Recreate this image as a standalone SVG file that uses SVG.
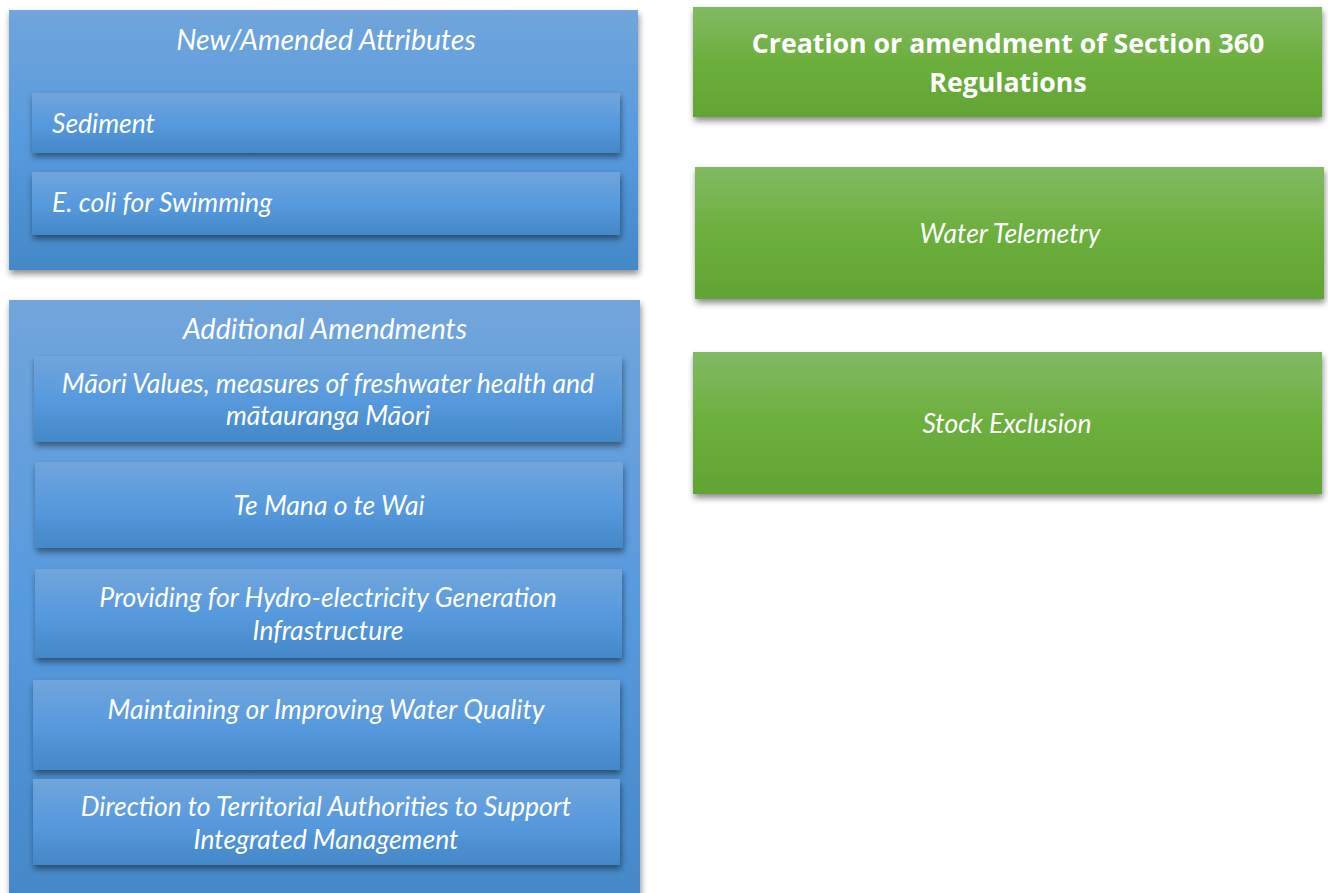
<svg xmlns="http://www.w3.org/2000/svg" width="1328" height="893" viewBox="0 0 1328 893">
<style>
.t{font-family:Lato,"Open Sans","Liberation Sans",sans-serif;font-style:italic;fill:#fff;font-size:26.5px}
.h{font-size:28.5px}
.c{text-anchor:middle}
.b{font-family:"Open Sans",Lato,"Liberation Sans",sans-serif;font-weight:bold;fill:#fff;font-size:26.7px;text-anchor:middle}
</style>
<defs>
<linearGradient id="gb" x1="0" y1="0" x2="0" y2="1">
<stop offset="0" stop-color="#71a5db"/><stop offset="0.5" stop-color="#579ade"/><stop offset="1" stop-color="#4488c8"/>
</linearGradient>
<linearGradient id="gg" x1="0" y1="0" x2="0" y2="1">
<stop offset="0" stop-color="#82b964"/><stop offset="0.5" stop-color="#6caf3d"/><stop offset="1" stop-color="#62a434"/>
</linearGradient>
<filter id="sh" x="-5%" y="-10%" width="110%" height="130%">
<feDropShadow dx="1" dy="4" stdDeviation="3" flood-color="#000" flood-opacity="0.45"/>
</filter>
</defs>
<rect width="1328" height="893" fill="#fff"/>
<g id="new-amended-attributes">
<rect x="9" y="10" width="629" height="260" fill="url(#gb)" filter="url(#sh)"/>
<text class="t h c" x="326" y="50">New/Amended Attributes</text>
</g>
<g id="sediment">
<rect x="32" y="93" width="588" height="60" fill="url(#gb)" filter="url(#sh)"/>
<text class="t" x="52" y="133">Sediment</text>
</g>
<g id="ecoli">
<rect x="32" y="172" width="588" height="63" fill="url(#gb)" filter="url(#sh)"/>
<text class="t" x="52" y="212">E. coli for Swimming</text>
</g>
<g id="additional-amendments">
<rect x="9" y="300" width="631" height="600" fill="url(#gb)" filter="url(#sh)"/>
<text class="t h c" x="325" y="339">Additional Amendments</text>
</g>
<g id="maori-values">
<rect x="34" y="356" width="588" height="86" fill="url(#gb)" filter="url(#sh)"/>
<text class="t c" x="328" y="393">Māori Values, measures of freshwater health and</text>
<text class="t c" x="328" y="425">mātauranga Māori</text>
</g>
<g id="te-mana">
<rect x="35" y="462" width="588" height="86" fill="url(#gb)" filter="url(#sh)"/>
<text class="t c" x="329" y="515">Te Mana o te Wai</text>
</g>
<g id="hydro">
<rect x="35" y="569" width="587" height="89" fill="url(#gb)" filter="url(#sh)"/>
<text class="t c" x="328" y="607">Providing for Hydro-electricity Generation</text>
<text class="t c" x="328" y="640">Infrastructure</text>
</g>
<g id="water-quality">
<rect x="33" y="680" width="587" height="90" fill="url(#gb)" filter="url(#sh)"/>
<text class="t c" x="326" y="719">Maintaining or Improving Water Quality</text>
</g>
<g id="direction">
<rect x="33" y="779" width="587" height="86" fill="url(#gb)" filter="url(#sh)"/>
<text class="t c" x="326" y="816">Direction to Territorial Authorities to Support</text>
<text class="t c" x="326" y="849">Integrated Management</text>
</g>
<g id="section-360">
<rect x="693" y="7" width="629" height="110" fill="url(#gg)" filter="url(#sh)"/>
<text class="b" x="1008" y="53">Creation or amendment of Section 360</text>
<text class="b" x="1008" y="92">Regulations</text>
</g>
<g id="water-telemetry">
<rect x="695" y="167" width="629" height="132" fill="url(#gg)" filter="url(#sh)"/>
<text class="t c" x="1010" y="243">Water Telemetry</text>
</g>
<g id="stock-exclusion">
<rect x="693" y="352" width="629" height="142" fill="url(#gg)" filter="url(#sh)"/>
<text class="t c" x="1007" y="433">Stock Exclusion</text>
</g>
<g id="connectors"></g>
</svg>
